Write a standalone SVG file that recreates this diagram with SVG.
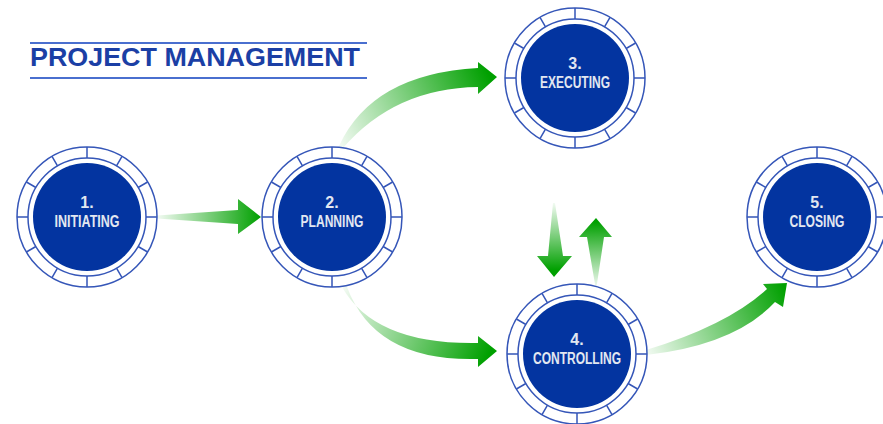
<svg xmlns="http://www.w3.org/2000/svg" xmlns:xlink="http://www.w3.org/1999/xlink" width="883" height="424" viewBox="0 0 883 424">
<style>
.ring{fill:#ffffff;stroke:#3556b8;stroke-width:1.5}
.spoke{fill:none;stroke:#3556b8;stroke-width:1.5}
.disc{fill:#0334a0}
.lbl{font-family:"Liberation Sans Narrow","Liberation Sans",Arial,sans-serif;font-weight:bold;font-size:16px;fill:#e2e7f1;text-anchor:middle}
.title{font-family:"Liberation Sans",Arial,sans-serif;font-weight:bold;font-size:26.5px;fill:#1b3fa5}
</style>
<defs>
<g id="node">
<circle class="ring" r="70"/>
<circle class="ring" r="59"/>
<path class="spoke" d="M0,-59L0,-70M29.5,-51.1L35,-60.6M51.1,-29.5L60.6,-35M59,0L70,0M51.1,29.5L60.6,35M29.5,51.1L35,60.6M0,59L0,70M-29.5,51.1L-35,60.6M-51.1,29.5L-60.6,35M-59,0L-70,0M-51.1,-29.5L-60.6,-35M-29.5,-51.1L-35,-60.6"/>
<circle class="disc" r="54"/>
</g>
<linearGradient id="g12" gradientUnits="userSpaceOnUse" x1="157" y1="217" x2="261" y2="217">
<stop offset="0" stop-color="#00a000" stop-opacity="0.05"/><stop offset="1" stop-color="#00a000"/>
</linearGradient>
<linearGradient id="g23" gradientUnits="userSpaceOnUse" x1="340" y1="147" x2="490" y2="77">
<stop offset="0" stop-color="#00a000" stop-opacity="0.05"/><stop offset="1" stop-color="#00a000"/>
</linearGradient>
<linearGradient id="g24" gradientUnits="userSpaceOnUse" x1="344" y1="287" x2="490" y2="351">
<stop offset="0" stop-color="#00a000" stop-opacity="0.05"/><stop offset="1" stop-color="#00a000"/>
</linearGradient>
<linearGradient id="g45" gradientUnits="userSpaceOnUse" x1="646" y1="353" x2="785" y2="288">
<stop offset="0" stop-color="#00a000" stop-opacity="0.05"/><stop offset="1" stop-color="#00a000"/>
</linearGradient>
<linearGradient id="gdn" gradientUnits="userSpaceOnUse" x1="554" y1="203" x2="554" y2="270">
<stop offset="0" stop-color="#00a000" stop-opacity="0.05"/><stop offset="1" stop-color="#00a000"/>
</linearGradient>
<linearGradient id="gup" gradientUnits="userSpaceOnUse" x1="596" y1="287" x2="596" y2="222">
<stop offset="0" stop-color="#00a000" stop-opacity="0.05"/><stop offset="1" stop-color="#00a000"/>
</linearGradient>
</defs>
<rect width="883" height="424" fill="#ffffff"/>
<g id="title">
<line x1="30" y1="43" x2="367" y2="43" stroke="#4a6fcf" stroke-width="2"/>
<text class="title" x="30" y="66" textLength="330" lengthAdjust="spacingAndGlyphs">PROJECT MANAGEMENT</text>
<line x1="30" y1="78" x2="367" y2="78" stroke="#4a6fcf" stroke-width="2"/>
</g>
<g id="connectors">
<path fill="url(#g12)" d="M157,215.5L238,210L238,199L261,217L238,234L238,224L157,218.5Z"/>
<path fill="url(#g23)" d="M339,146Q372,74 478,68L478,62L497,77L478,94L478,87Q395,88 343,148Z"/>
<path fill="url(#g24)" d="M342,287Q375,345 478,343L478,336L497,351L478,367L478,359Q375,362 347,287Z"/>
<path fill="url(#g45)" d="M646,350Q728,325 767,289L763,284L787,283L783,307L775,302Q735,345 646,355Z"/>
<path fill="url(#gdn)" d="M553,203L555,203L563,256L572,256L554,277L537,256L548,256Z"/>
<path fill="url(#gup)" d="M595.5,287L596.5,287L604,237L612,237L596,218L579,237L587,237Z"/>
</g>
<g id="n1">
<use xlink:href="#node" x="87" y="217"/>
<text class="lbl" x="87" y="208">1.</text>
<text class="lbl" x="87" y="226.5" textLength="65" lengthAdjust="spacingAndGlyphs">INITIATING</text>
</g>
<g id="n2">
<use xlink:href="#node" x="332" y="217"/>
<text class="lbl" x="332" y="208">2.</text>
<text class="lbl" x="332" y="226.5" textLength="63" lengthAdjust="spacingAndGlyphs">PLANNING</text>
</g>
<g id="n3">
<use xlink:href="#node" x="575" y="78"/>
<text class="lbl" x="575" y="69">3.</text>
<text class="lbl" x="575" y="87.5" textLength="70" lengthAdjust="spacingAndGlyphs">EXECUTING</text>
</g>
<g id="n4">
<use xlink:href="#node" x="577" y="354"/>
<text class="lbl" x="577" y="345">4.</text>
<text class="lbl" x="577" y="363.5" textLength="88" lengthAdjust="spacingAndGlyphs">CONTROLLING</text>
</g>
<g id="n5">
<use xlink:href="#node" x="817" y="217"/>
<text class="lbl" x="817" y="208">5.</text>
<text class="lbl" x="817" y="226.5" textLength="55" lengthAdjust="spacingAndGlyphs">CLOSING</text>
</g>
</svg>
